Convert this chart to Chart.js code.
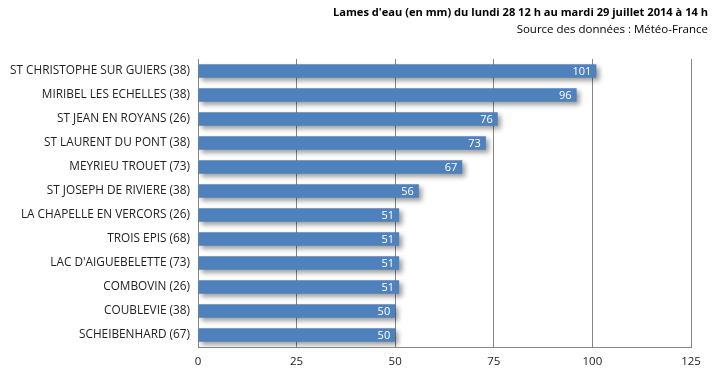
<!DOCTYPE html>
<html><head><meta charset="utf-8">
<script src="https://cdn.jsdelivr.net/npm/chart.js@4/dist/chart.umd.min.js"></script>
<style>
html,body{margin:0;padding:0;background:#fff;}
#wrap{position:relative;width:713px;height:378px;}
#t1{position:absolute;right:5px;top:4px;font:bold 11.1px "Open Sans",sans-serif;color:#000;white-space:nowrap;}
#t2{position:absolute;right:5px;top:21px;font:11.5px "Open Sans",sans-serif;color:#000;white-space:nowrap;}
canvas{position:absolute;left:0;top:0;}
</style></head><body>
<div id="wrap">
<canvas id="c" width="713" height="378"></canvas>
<div id="t1">Lames d'eau (en mm) du lundi 28 12 h au mardi 29 juillet 2014 à 14 h</div>
<div id="t2">Source des données : Météo-France</div>
</div>
<script>
const categories = ["ST CHRISTOPHE SUR GUIERS (38)","MIRIBEL LES ECHELLES (38)","ST JEAN EN ROYANS (26)","ST LAURENT DU PONT (38)","MEYRIEU TROUET (73)","ST JOSEPH DE RIVIERE (38)","LA CHAPELLE EN VERCORS (26)","TROIS EPIS (68)","LAC D'AIGUEBELETTE (73)","COMBOVIN (26)","COUBLEVIE (38)","SCHEIBENHARD (67)"];
const values = [101,96,76,73,67,56,51,51,51,51,50,50];
const xTicks = [0,25,50,75,100,125];

const FONT = '"Open Sans", sans-serif';
const shadowPlugin = {
  id:'shadow',
  beforeDatasetDraw(chart){ const c=chart.ctx; c.save(); c.shadowColor='rgba(0,0,0,0.4)'; c.shadowBlur=5; c.shadowOffsetX=3; c.shadowOffsetY=3; },
  afterDatasetDraw(chart){ chart.ctx.restore(); }
};
const labelPlugin = {
  id:'vlabels',
  afterDatasetsDraw(chart){
    const c=chart.ctx; const meta=chart.getDatasetMeta(0);
    c.save(); c.fillStyle='#fff'; c.font='11px '+FONT; c.textAlign='right'; c.textBaseline='middle';
    meta.data.forEach((b,i)=>{ c.fillText(String(values[i]), b.x-5, b.y+1); });
    c.restore();
  }
};
new Chart(document.getElementById('c'),{
  type:'bar',
  data:{labels:categories,datasets:[{data:values,backgroundColor:'#4F81BD',borderWidth:0,barPercentage:0.56,categoryPercentage:1}]},
  options:{
    indexAxis:'y',responsive:false,animation:false,
    layout:{padding:{top:59,right:22,bottom:0,left:0}},
    plugins:{legend:{display:false},tooltip:{enabled:false}},
    scales:{
      x:{min:0,max:125,
        afterBuildTicks(s){ s.ticks = xTicks.map(v=>({value:v})); },
        afterFit(s){ s.height=31; },
        grid:{color:'#868686',drawTicks:false,lineWidth:1},
        border:{color:'#868686'},
        ticks:{padding:8,color:'#222',font:{family:FONT,size:11.5}}},
      y:{
        afterFit(s){ s.width=198; },
        grid:{display:false,drawTicks:false},
        border:{color:'#868686'},
        ticks:{padding:8,color:'#222',font:{family:FONT,size:11.8},autoSkip:false}}
    }
  },
  plugins:[shadowPlugin,labelPlugin]
});
</script>
</body></html>
